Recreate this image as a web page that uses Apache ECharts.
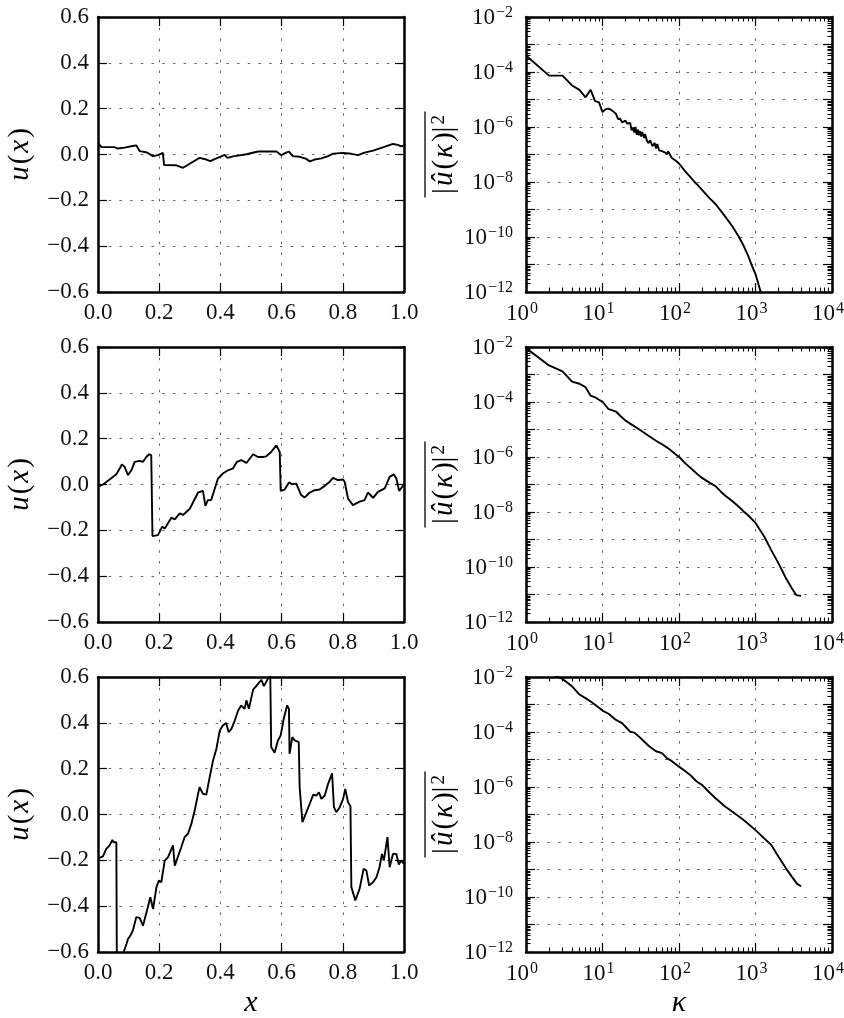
<!DOCTYPE html>
<html><head><meta charset="utf-8">
<script src="https://cdn.jsdelivr.net/npm/echarts@6/dist/echarts.min.js"></script>
<style>html,body{margin:0;padding:0;background:#fff}#c{width:844px;height:1018px}</style>
</head><body><div id="c"></div>
<script>
// ---------- data ----------
// row 1, u(x)
const x1 = [0.000,0.011,0.054,0.060,0.065,0.087,0.109,0.125,0.131,0.136,0.158,0.180,0.196,0.212,0.216,0.256,0.278,0.305,0.332,0.354,0.367,0.381,0.403,0.414,0.423,0.441,0.463,0.485,0.523,0.583,0.599,0.615,0.624,0.637,0.659,0.679,0.692,0.708,0.730,0.752,0.768,0.801,0.828,0.850,0.871,0.899,0.931,0.964,0.980,0.991,1.000];
const u1 = [0.051,0.032,0.032,0.036,0.026,0.030,0.036,0.040,0.035,0.015,0.010,-0.007,-0.003,0.007,-0.046,-0.047,-0.058,-0.036,-0.015,-0.022,-0.029,-0.020,-0.008,-0.002,-0.015,-0.008,-0.004,0.001,0.013,0.013,-0.003,0.008,0.013,-0.007,-0.010,-0.018,-0.030,-0.022,-0.017,-0.007,0.004,0.007,0.003,-0.003,0.008,0.017,0.031,0.046,0.042,0.035,0.040];
// row 2, u(x)
const x2 = [0.000,0.016,0.038,0.060,0.069,0.078,0.087,0.098,0.109,0.120,0.136,0.147,0.158,0.167,0.174,0.178,0.196,0.210,0.218,0.240,0.251,0.267,0.278,0.300,0.327,0.343,0.351,0.359,0.370,0.392,0.408,0.425,0.441,0.454,0.468,0.485,0.507,0.523,0.539,0.550,0.566,0.583,0.589,0.594,0.597,0.610,0.624,0.635,0.648,0.664,0.675,0.692,0.708,0.724,0.741,0.757,0.768,0.784,0.801,0.806,0.817,0.833,0.855,0.871,0.882,0.899,0.915,0.937,0.953,0.967,0.975,0.984,1.000];
const u2 = [-0.010,0.000,0.022,0.045,0.065,0.087,0.077,0.041,0.062,0.099,0.103,0.099,0.120,0.132,0.128,-0.225,-0.221,-0.184,-0.192,-0.145,-0.152,-0.126,-0.133,-0.106,-0.035,-0.028,-0.093,-0.068,-0.068,0.026,0.048,0.062,0.070,0.099,0.106,0.094,0.132,0.120,0.120,0.123,0.142,0.171,0.168,0.142,-0.028,-0.022,0.009,0.001,0.004,-0.046,-0.057,-0.035,-0.025,-0.022,-0.006,0.012,0.029,0.019,0.022,0.012,-0.061,-0.090,-0.075,-0.068,-0.035,-0.058,-0.032,-0.017,0.033,0.044,0.026,-0.028,0.000];
// row 3, u(x)
const x3 = [0.000,0.016,0.027,0.038,0.047,0.051,0.060,0.062,0.073,0.084,0.093,0.098,0.106,0.114,0.125,0.136,0.147,0.163,0.171,0.180,0.191,0.199,0.207,0.218,0.229,0.245,0.251,0.256,0.272,0.283,0.294,0.305,0.316,0.327,0.332,0.343,0.354,0.365,0.376,0.387,0.398,0.408,0.419,0.427,0.436,0.447,0.458,0.468,0.479,0.485,0.493,0.507,0.517,0.534,0.542,0.556,0.563,0.566,0.577,0.588,0.597,0.607,0.618,0.624,0.626,0.635,0.643,0.656,0.659,0.668,0.681,0.692,0.703,0.714,0.722,0.730,0.741,0.752,0.765,0.771,0.779,0.790,0.801,0.808,0.817,0.825,0.828,0.833,0.841,0.855,0.868,0.877,0.886,0.899,0.910,0.920,0.928,0.934,0.946,0.953,0.964,0.975,0.983,0.991,1.000];
const u3 = [-0.193,-0.183,-0.150,-0.135,-0.111,-0.121,-0.121,-0.780,-0.660,-0.600,-0.565,-0.543,-0.528,-0.506,-0.448,-0.451,-0.485,-0.404,-0.361,-0.412,-0.317,-0.288,-0.295,-0.201,-0.186,-0.135,-0.223,-0.223,-0.143,-0.099,-0.084,-0.041,0.017,0.090,0.119,0.090,0.087,0.163,0.236,0.287,0.367,0.388,0.399,0.359,0.374,0.410,0.454,0.476,0.461,0.498,0.461,0.545,0.560,0.588,0.560,0.594,0.605,0.294,0.269,0.323,0.345,0.418,0.476,0.461,0.265,0.338,0.323,0.316,0.119,-0.033,0.010,0.047,0.086,0.083,0.097,0.068,0.083,0.134,0.180,0.032,0.010,0.032,0.068,0.112,0.054,0.036,-0.317,-0.324,-0.375,-0.324,-0.237,-0.244,-0.310,-0.295,-0.274,-0.230,-0.172,-0.201,-0.099,-0.230,-0.172,-0.172,-0.218,-0.201,-0.215];
// spectra
const k1 = [1,2,3,4,5,6,7,8,9,10,11,12,13,14,15,16,17,18,19,20,21,22,23,24,25,26,27,28,29,30,31,32,33,35,36,38,40,42,45,48,50,52,55,60,65,70,72,80,90,100,120,140,160,165,170,200,250,300,400,500,600,700,800,900,1000,1100,1200,1300];
const E1 = [4.0e-4,7.4e-5,7.4e-5,3.24e-5,2.24e-5,1.2e-5,2.24e-5,8.7e-6,7.9e-6,3.47e-6,4.47e-6,4.68e-6,4.17e-6,3.55e-6,3.02e-6,1.95e-6,2.0e-6,1.48e-6,1.58e-6,1.7e-6,1.32e-6,1.12e-6,1.41e-6,7.6e-7,9.5e-7,6.3e-7,1.0e-6,5.2e-7,7.9e-7,5.0e-7,7.1e-7,4.5e-7,6.6e-7,4.0e-7,5.6e-7,3.2e-7,2.6e-7,3.3e-7,2.0e-7,2.6e-7,1.66e-7,2.4e-7,1.41e-7,1.32e-7,1.2e-7,1.05e-7,1.32e-7,7.6e-8,6.0e-8,4.7e-8,2.5e-8,1.55e-8,1.0e-8,1.17e-8,8.5e-9,5.2e-9,2.6e-9,1.58e-9,5.6e-10,2.4e-10,1.07e-10,4.8e-11,2.1e-11,8.9e-12,4.5e-12,1.78e-12,7.9e-13,3.5e-13];
const k2 = [1,2,3,4,5,6,7,8,9,10,12,13,15,17,20,25,30,35,40,50,60,70,80,90,100,120,140,170,200,250,300,350,400,500,600,700,800,1000,1300,1600,2000,2500,3000,3400,3950];
const E2 = [9.1e-3,2.14e-3,1.29e-3,5.5e-4,4.6e-4,3.47e-4,1.7e-4,1.48e-4,1.2e-4,1.02e-4,5.5e-5,5.2e-5,4.5e-5,3.16e-5,2.1e-5,1.41e-5,1.02e-5,7.6e-6,5.9e-6,3.9e-6,2.9e-6,2.2e-6,1.66e-6,1.26e-6,1.02e-6,6.0e-7,4.1e-7,2.5e-7,1.74e-7,1.17e-7,8.7e-8,5.6e-8,4.0e-8,2.45e-8,1.58e-8,1.05e-8,7.6e-9,4.0e-9,1.29e-9,4.2e-10,1.35e-10,3.9e-11,1.66e-11,9.5e-12,8.9e-12];
const k3 = [1,2,3,4,5,6,7,8,9,10,12,15,18,20,23,26,30,35,40,50,60,70,80,100,120,140,170,200,250,300,400,500,700,1000,1300,1600,2000,2500,3000,3500,3950];
const E3 = [2.8e-2,1.41e-2,8.5e-3,4.6e-3,2.3e-3,1.7e-3,1.29e-3,9.8e-4,7.6e-4,6.0e-4,4.6e-4,2.75e-4,2.1e-4,1.55e-4,1.02e-4,9.5e-5,6.8e-5,4.5e-5,3.16e-5,2.0e-5,1.7e-5,1.1e-5,8.9e-6,5.5e-6,3.8e-6,2.75e-6,1.58e-6,1.2e-6,6.3e-7,3.9e-7,1.95e-7,1.26e-7,6.3e-8,2.7e-8,1.35e-8,7.9e-9,2.9e-9,1.1e-9,5.4e-10,3.0e-10,2.45e-10];
// axis ticks
const MINOR_MULT = [2,3,4,5,6,7,8,9];
const K_DECADES = [1,10,100,1000];
const P_DECADES = [1e-12,1e-11,1e-10,1e-9,1e-8,1e-7,1e-6,1e-5,1e-4,1e-3];

// ---------- layout / style ----------
const FONT = '"Liberation Serif", "Times New Roman", Times, serif';
const COLS = [98, 526], ROWS = [17, 347, 677], W = 306, H = 275;
const INK = '#111';
const frame = {show:true, onZero:false, lineStyle:{color:'#000', width:2.5}};
const noLine = {show:false, onZero:false};
const tickMaj = {show:true, inside:true, length:9, lineStyle:{color:'#000', width:1.2}};
const gridStyle = {color:'#666', width:1, type:[2.5, 8.2]};
const lab = {fontFamily:FONT, fontSize:23, color:INK};
const supRich = {
  b:{fontFamily:FONT, fontSize:23, color:INK, lineHeight:24, verticalAlign:'bottom'},
  s:{fontFamily:FONT, fontSize:16, color:INK, lineHeight:14, verticalAlign:'top', padding:[0,0,0,1]}
};
const fmtLin = v => { const r = Math.round(v*10)/10; return (r < 0 ? '\u2212' : '') + Math.abs(r).toFixed(1); };
const supTxt = e => (e < 0 ? '\u2212' : '') + Math.abs(e);
const fmtLogX = v => { const e = Math.round(Math.log10(v)); return '{b|10}{s|' + supTxt(e) + '}'; };
const fmtLogY = v => { const e = Math.round(Math.log10(v)); return (e % 2 === 0) ? '{b|10}{s|' + supTxt(e) + '}' : ''; };
const kMinor = K_DECADES.flatMap(d => MINOR_MULT.map(m => m*d));
const pMinor = P_DECADES.flatMap(d => MINOR_MULT.map(m => m*d));

const grids = [], xAxes = [], yAxes = [], series = [];

function addLin(row, xs, us){
  const g = grids.length;
  grids.push({left:COLS[0], top:ROWS[row], width:W, height:H, containLabel:false, outerBoundsMode:'none'});
  const xi = xAxes.length, yi = yAxes.length;
  const xb = {gridIndex:g, type:'value', min:0, max:1, interval:0.2};
  const yb = {gridIndex:g, type:'value', min:-0.6, max:0.6, interval:0.2};
  xAxes.push(Object.assign({}, xb, {position:'bottom', axisLine:frame, axisTick:tickMaj,
    axisLabel:Object.assign({}, lab, {margin:9, formatter:fmtLin}), splitLine:{show:true, lineStyle:gridStyle}}));
  xAxes.push(Object.assign({}, xb, {position:'top', axisLine:frame, axisTick:tickMaj, axisLabel:{show:false}, splitLine:{show:false}}));
  yAxes.push(Object.assign({}, yb, {position:'left', axisLine:frame, axisTick:tickMaj,
    axisLabel:Object.assign({}, lab, {margin:9, formatter:fmtLin}), splitLine:{show:true, lineStyle:gridStyle}}));
  yAxes.push(Object.assign({}, yb, {position:'right', axisLine:frame, axisTick:tickMaj, axisLabel:{show:false}, splitLine:{show:false}}));
  series.push({type:'line', xAxisIndex:xi, yAxisIndex:yi, data:xs.map((x,i)=>[x, us[i]]),
    showSymbol:false, symbol:'none', clip:true, animation:false, lineStyle:{color:'#000', width:1.9}});
}

function addLog(row, ks, es){
  const g = grids.length;
  grids.push({left:COLS[1], top:ROWS[row], width:W, height:H, containLabel:false, outerBoundsMode:'none'});
  const xi = xAxes.length, yi = yAxes.length;
  const xb = {gridIndex:g, type:'log', logBase:10, min:1, max:1e4, interval:1};
  const yb = {gridIndex:g, type:'log', logBase:10, min:1e-12, max:1e-2, interval:1};
  const tickMin = vals => ({show:true, inside:true, length:4.5, customValues:vals, lineStyle:{color:'#000', width:1.1}});
  xAxes.push(Object.assign({}, xb, {position:'bottom', axisLine:frame, axisTick:tickMaj,
    axisLabel:{margin:9, formatter:fmtLogX, rich:supRich, padding:[0,8,0,0]}, splitLine:{show:true, lineStyle:gridStyle}}));
  xAxes.push(Object.assign({}, xb, {position:'top', axisLine:frame, axisTick:tickMaj, axisLabel:{show:false}, splitLine:{show:false}}));
  xAxes.push(Object.assign({}, xb, {position:'bottom', axisLine:noLine, axisTick:tickMin(kMinor), axisLabel:{show:false}, splitLine:{show:false}}));
  xAxes.push(Object.assign({}, xb, {position:'top', axisLine:noLine, axisTick:tickMin(kMinor), axisLabel:{show:false}, splitLine:{show:false}}));
  yAxes.push(Object.assign({}, yb, {position:'left', axisLine:frame, axisTick:tickMaj,
    axisLabel:{margin:13, formatter:fmtLogY, rich:supRich}, splitLine:{show:true, lineStyle:gridStyle}}));
  yAxes.push(Object.assign({}, yb, {position:'right', axisLine:frame, axisTick:tickMaj, axisLabel:{show:false}, splitLine:{show:false}}));
  yAxes.push(Object.assign({}, yb, {position:'left', axisLine:noLine, axisTick:tickMin(pMinor), axisLabel:{show:false}, splitLine:{show:false}}));
  yAxes.push(Object.assign({}, yb, {position:'right', axisLine:noLine, axisTick:tickMin(pMinor), axisLabel:{show:false}, splitLine:{show:false}}));
  series.push({type:'line', xAxisIndex:xi, yAxisIndex:yi, data:ks.map((k,i)=>[k, es[i]]),
    showSymbol:false, symbol:'none', clip:true, animation:false, lineStyle:{color:'#000', width:1.9}});
}

addLin(0, x1, u1); addLog(0, k1, E1);
addLin(1, x2, u2); addLog(1, k2, E2);
addLin(2, x3, u3); addLog(2, k3, E3);

// axis titles
const titleRich = {
  i:{fontFamily:FONT, fontStyle:'italic', fontSize:29, fill:'#000', padding:[0,1]},
  r:{fontFamily:FONT, fontSize:29, fill:'#000', padding:[0,1]},
  s:{fontFamily:FONT, fontSize:19, fill:'#000', verticalAlign:'top', lineHeight:14, padding:[0,1]}
};
const graphic = [];
ROWS.forEach(top => {
  const cy = top + H/2;
  graphic.push({type:'text', x:20, y:cy, rotation:Math.PI/2,
    style:{text:'{i|u}{r|(}{i|x}{r|)}', rich:titleRich, align:'center', verticalAlign:'middle'}});
  graphic.push({type:'group', x:444, y:cy, rotation:Math.PI/2, children:[
    {type:'text', x:0, y:0, style:{text:'{r|\u007c}{i|\u00fb}{r|(}{i|\u03ba}{r|)\u007c}{s|2}', rich:titleRich, align:'center', verticalAlign:'middle'}},
    {type:'line', shape:{x1:-43, y1:-19, x2:43, y2:-19}, style:{stroke:'#000', lineWidth:1.3}}
  ]});
});
graphic.push({type:'text', x:251, y:1003, style:{text:'x', fontFamily:FONT, fontStyle:'italic', fontSize:30, fill:'#000', align:'center', verticalAlign:'middle'}});
graphic.push({type:'text', x:679, y:1003, style:{text:'\u03ba', fontFamily:FONT, fontStyle:'italic', fontSize:30, fill:'#000', align:'center', verticalAlign:'middle'}});

const chart = echarts.init(document.getElementById('c'), null, {renderer:'canvas'});
chart.setOption({
  animation:false, backgroundColor:'#fff',
  textStyle:{fontFamily:FONT},
  grid:grids, xAxis:xAxes, yAxis:yAxes, series:series, graphic:graphic
});
</script></body></html>
